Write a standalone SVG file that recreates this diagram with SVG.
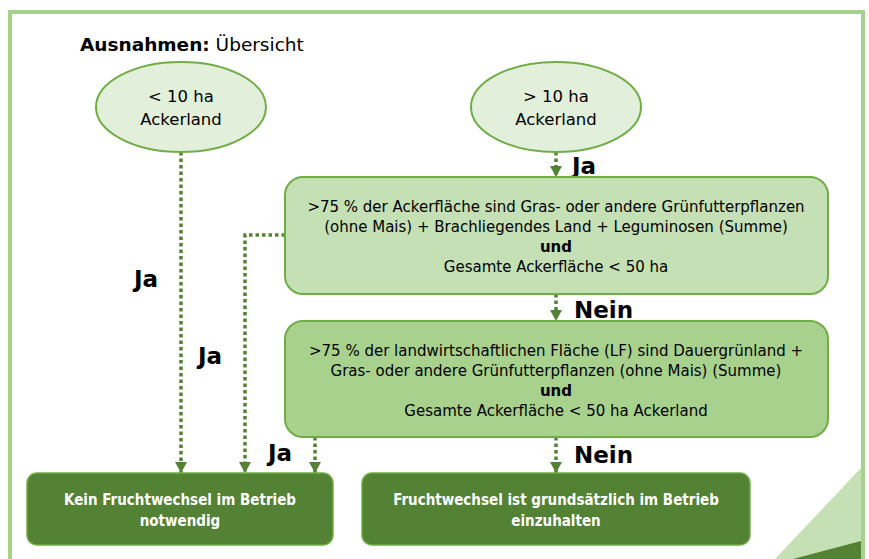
<svg xmlns="http://www.w3.org/2000/svg" width="869" height="559" viewBox="0 0 869 559">
<defs>
<marker id="ah" viewBox="0 0 11 12" refX="11" refY="6" markerWidth="11" markerHeight="12" markerUnits="userSpaceOnUse" orient="auto">
<path d="M0,0 L11,6 L0,12 Z" fill="#548235"/>
</marker>
<style>
.t{font-family:"DejaVu Sans",sans-serif;fill:#000;text-anchor:middle}
.e{font-size:16.5px}
.b{font-size:15px}
.w{font-family:"DejaVu Sans",sans-serif;font-stretch:condensed;font-size:15px;fill:#fff;text-anchor:middle;font-weight:bold}
.lbl{font-family:"DejaVu Sans",sans-serif;font-weight:bold;font-size:23px;fill:#000}
.c{fill:none;stroke:#548235;stroke-width:3.5;stroke-dasharray:3.5 3}
</style>
</defs>
<rect width="869" height="559" fill="#fff"/>
<rect x="10" y="12" width="853" height="560" fill="none" stroke="#a9d18e" stroke-width="4"/>
<polygon points="775,559 861,468 861,559" fill="#c5e0b4"/>
<polygon points="793,559 861,541 861,559" fill="#548235"/>
<text x="80" y="51" style="font-family:'DejaVu Sans',sans-serif;font-size:18.5px" fill="#000"><tspan font-weight="bold">Ausnahmen:</tspan> Übersicht</text>

<g id="connectors">
<path class="c" d="M181,152 V473" marker-end="url(#ah)"/>
<path class="c" d="M285,235 H245 V473" marker-end="url(#ah)"/>
<path class="c" d="M315,437 V473" marker-end="url(#ah)"/>
<path class="c" d="M556,152 V177" marker-end="url(#ah)"/>
<path class="c" d="M556,294 V321" marker-end="url(#ah)"/>
<path class="c" d="M556,437 V473" marker-end="url(#ah)"/>
<text class="lbl" x="134" y="287">Ja</text>
<text class="lbl" x="198" y="364">Ja</text>
<text class="lbl" x="268" y="461">Ja</text>
<text class="lbl" x="572" y="174">Ja</text>
<text class="lbl" x="574" y="318">Nein</text>
<text class="lbl" x="574" y="463">Nein</text>
</g>

<g id="n1">
<ellipse cx="181" cy="107" rx="85" ry="45" fill="#e2efda" stroke="#70ad47" stroke-width="2"/>
<text class="t e" x="181" y="102">&lt; 10 ha</text>
<text class="t e" x="181" y="125">Ackerland</text>
</g>
<g id="n2">
<ellipse cx="556" cy="107" rx="85" ry="45" fill="#e2efda" stroke="#70ad47" stroke-width="2"/>
<text class="t e" x="556" y="102">&gt; 10 ha</text>
<text class="t e" x="556" y="125">Ackerland</text>
</g>
<g id="n3">
<rect x="285" y="177" width="543" height="117" rx="18" fill="#c5e0b4" stroke="#70ad47" stroke-width="2"/>
<text class="t b" x="556" y="212">&gt;75 % der Ackerfläche sind Gras- oder andere Grünfutterpflanzen</text>
<text class="t b" x="556" y="232">(ohne Mais) + Brachliegendes Land + Leguminosen (Summe)</text>
<text class="t b" x="556" y="252" font-weight="bold">und</text>
<text class="t b" x="556" y="272">Gesamte Ackerfläche &lt; 50 ha</text>
</g>
<g id="n4">
<rect x="285" y="321" width="543" height="116" rx="18" fill="#a9d18e" stroke="#70ad47" stroke-width="2"/>
<text class="t b" x="556" y="356">&gt;75 % der landwirtschaftlichen Fläche (LF) sind Dauergrünland +</text>
<text class="t b" x="556" y="376">Gras- oder andere Grünfutterpflanzen (ohne Mais) (Summe)</text>
<text class="t b" x="556" y="396" font-weight="bold">und</text>
<text class="t b" x="556" y="416">Gesamte Ackerfläche &lt; 50 ha Ackerland</text>
</g>
<g id="n5">
<rect x="27" y="473" width="306" height="72" rx="10" fill="#548235" stroke="#70ad47" stroke-width="1.5"/>
<text class="w" x="180" y="505">Kein Fruchtwechsel im Betrieb</text>
<text class="w" x="180" y="526">notwendig</text>
</g>
<g id="n6">
<rect x="362" y="473" width="388" height="72" rx="10" fill="#548235" stroke="#70ad47" stroke-width="1.5"/>
<text class="w" x="556" y="505">Fruchtwechsel ist grundsätzlich im Betrieb</text>
<text class="w" x="556" y="526">einzuhalten</text>
</g>
</svg>
